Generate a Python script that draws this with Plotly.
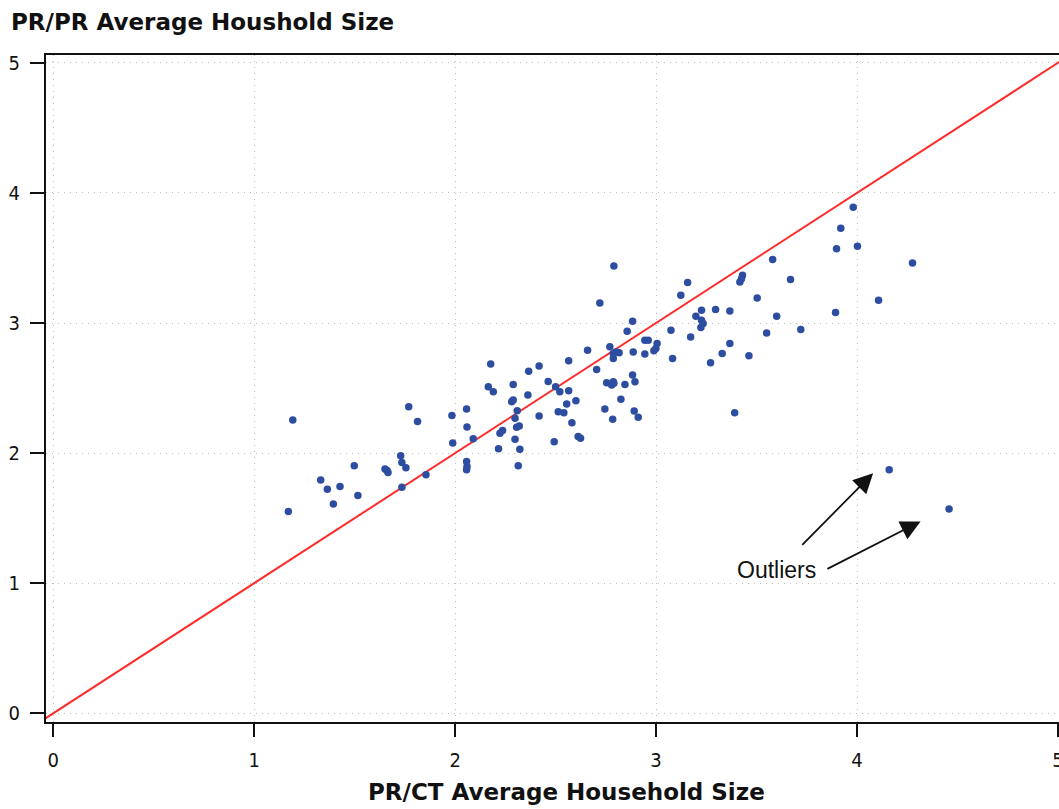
import plotly.graph_objects as go

# PR/CT average household size (x) vs PR/PR average household size (y)
pr_ct = [1.170, 1.192, 1.331, 1.364, 1.394, 1.427, 1.498, 1.516, 1.651, 1.661,
         1.666, 1.729, 1.735, 1.755, 1.735, 1.769, 1.813, 1.855, 1.984, 1.988,
         2.057, 2.059, 2.057, 2.059, 2.057, 2.090, 2.177, 2.165, 2.190, 2.289,
         2.366, 2.418, 2.565, 2.659, 2.770, 2.787, 2.800, 2.787, 2.816, 2.886,
         2.704, 2.463, 2.500, 2.521, 2.565, 2.362, 2.289, 2.281, 2.309, 2.555,
         2.601, 2.513, 2.541, 2.418, 2.298, 2.236, 2.223, 2.306, 2.319, 2.298,
         2.322, 2.216, 2.493, 2.581, 2.612, 2.624, 2.314, 2.754, 2.779, 2.790,
         2.787, 2.845, 2.883, 2.895, 2.825, 2.745, 2.784, 2.891, 2.911, 2.790,
         2.720, 3.157, 3.123, 3.430, 3.425, 3.417, 3.503, 2.883, 2.856, 3.226,
         3.198, 3.226, 3.234, 3.223, 3.296, 3.367, 3.074, 3.172, 2.944, 2.961,
         3.005, 2.999, 2.989, 2.944, 3.082, 3.271, 3.329, 3.367, 3.462, 3.391,
         3.981, 3.919, 3.898, 4.002, 3.580, 4.276, 3.669, 4.107, 3.600, 3.893,
         3.720, 3.550, 4.160, 4.458]
pr_pr = [1.551, 2.255, 1.794, 1.723, 1.608, 1.743, 1.902, 1.674, 1.877, 1.866,
         1.850, 1.979, 1.927, 1.887, 1.738, 2.357, 2.242, 1.833, 2.288, 2.078,
         2.339, 2.201, 1.935, 1.897, 1.871, 2.111, 2.684, 2.510, 2.472, 2.528,
         2.630, 2.669, 2.709, 2.791, 2.817, 2.766, 2.778, 2.728, 2.771, 2.778,
         2.643, 2.551, 2.510, 2.472, 2.479, 2.446, 2.408, 2.395, 2.326, 2.377,
         2.403, 2.318, 2.311, 2.285, 2.268, 2.173, 2.153, 2.199, 2.209, 2.107,
         2.030, 2.034, 2.088, 2.234, 2.127, 2.114, 1.902, 2.541, 2.523, 2.536,
         2.548, 2.528, 2.600, 2.548, 2.413, 2.339, 2.260, 2.324, 2.275, 3.438,
         3.154, 3.311, 3.213, 3.367, 3.341, 3.315, 3.193, 3.014, 2.937, 3.098,
         3.052, 3.021, 2.996, 2.965, 3.104, 3.093, 2.945, 2.893, 2.868, 2.868,
         2.843, 2.804, 2.786, 2.761, 2.728, 2.694, 2.766, 2.843, 2.748, 2.311,
         3.890, 3.729, 3.571, 3.589, 3.489, 3.461, 3.334, 3.175, 3.052, 3.080,
         2.950, 2.924, 1.871, 1.570]

ref_line = [-0.1, 5.1]
tick_vals = [0, 1, 2, 3, 4, 5]
tick_text = ["0", "1", "2", "3", "4", "5"]

fig = go.Figure()
fig.add_trace(go.Scatter(x=ref_line, y=ref_line, mode="lines",
                         line=dict(color="#FF2A2A", width=2), hoverinfo="skip",
                         showlegend=False))
fig.add_trace(go.Scatter(x=pr_ct, y=pr_pr, mode="markers",
                         marker=dict(color="#2D4EA0", size=7.5, symbol="circle",
                                     line=dict(width=0)),
                         showlegend=False))

tick_font = dict(family="Liberation Sans Narrow, DejaVu Sans Condensed, Arial Narrow, sans-serif",
                 size=20, color="#111111")
grid_dash = "1px,5px"
title_font = dict(family="DejaVu Sans, sans-serif", size=23, color="#111111")

fig.update_layout(
    width=1059, height=809,
    margin=dict(l=46, r=0, t=55, b=87),
    paper_bgcolor="white", plot_bgcolor="white",
    xaxis=dict(range=[-0.036, 5.005], tickvals=tick_vals, ticktext=tick_text,
               showline=True, linecolor="#111111", linewidth=2, mirror=True,
               ticks="outside", ticklen=13, tickwidth=1.5, tickcolor="#111111",
               showgrid=True, gridcolor="#BDBDBD", griddash=grid_dash, gridwidth=1,
               zeroline=False, tickfont=tick_font, ticklabelstandoff=6,
               ticklabeloverflow="allow", automargin=False),
    yaxis=dict(range=[-0.067, 5.06], tickvals=tick_vals, ticktext=tick_text,
               showline=True, linecolor="#111111", linewidth=2, mirror=False,
               ticks="outside", ticklen=14, tickwidth=1.5, tickcolor="#111111",
               showgrid=True, gridcolor="#BDBDBD", griddash=grid_dash, gridwidth=1,
               zeroline=False, tickfont=tick_font, ticklabelstandoff=6,
               automargin=False),
    annotations=[
        dict(text="<b>PR/PR Average Houshold Size</b>", xref="paper", yref="paper",
             x=-0.037, y=1.0, yshift=33, xanchor="left", yanchor="middle", showarrow=False,
             font=title_font),
        dict(text="<b>PR/CT Average Household Size</b>", xref="paper", yref="paper",
             x=0.514, y=0.0, yshift=-70, xanchor="center", yanchor="middle", showarrow=False,
             font=title_font),
        dict(text="Outliers", x=3.60, y=1.104, xref="x", yref="y", showarrow=False,
             font=dict(family="Liberation Sans, Arial, sans-serif", size=23, color="#111111")),
        dict(text="", x=4.080, y=1.846, ax=3.720, ay=1.283, xref="x", yref="y",
             axref="x", ayref="y", showarrow=True, arrowhead=2, arrowsize=2.2,
             arrowwidth=1.8, arrowcolor="#111111"),
        dict(text="", x=4.316, y=1.475, ax=3.845, ay=1.104, xref="x", yref="y",
             axref="x", ayref="y", showarrow=True, arrowhead=2, arrowsize=2.2,
             arrowwidth=1.8, arrowcolor="#111111"),
    ],
)

fig.write_html("out.html")
